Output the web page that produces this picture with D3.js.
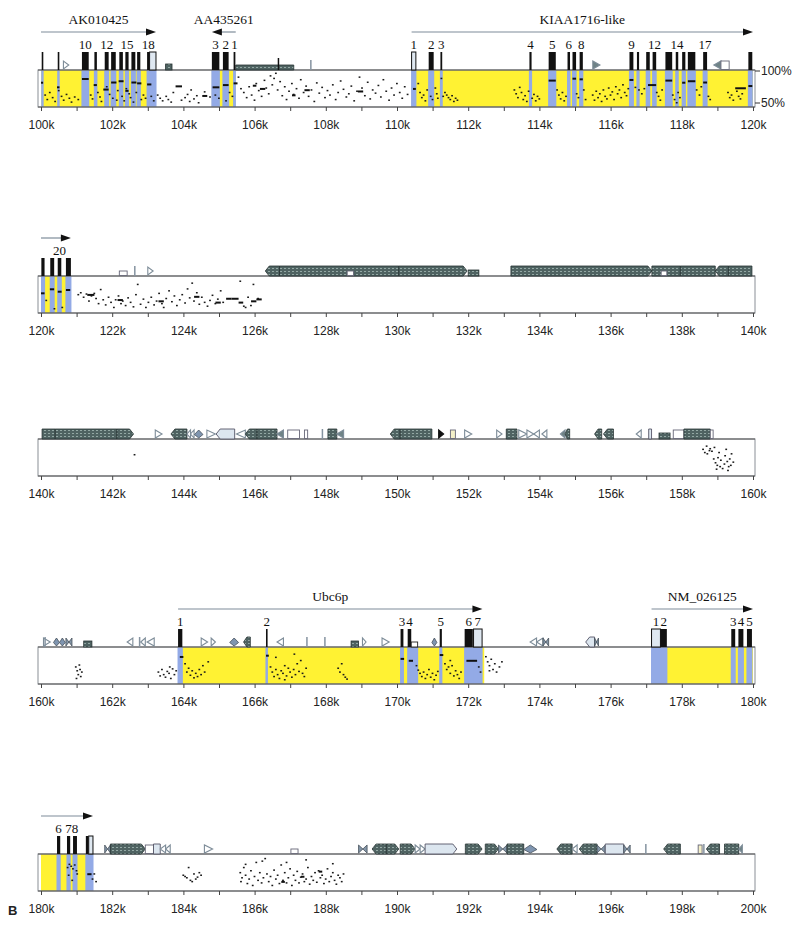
<!DOCTYPE html>
<html>
<head>
<meta charset="utf-8">
<script src="https://cdn.jsdelivr.net/npm/d3@7"></script>
<style>
  body { margin: 0; background: #fff; }
  .tick-label { font-family: "Liberation Sans", Arial, sans-serif; font-size: 12px; fill: #222; }
  .serif { font-family: "Liberation Serif", "Times New Roman", serif; fill: #111; }
</style>
</head>
<body>
<div id="pip"></div>
<script>
// ---- data (kb positions, percent identity) ----
var panelRanges = [[100, 120], [120, 140], [140, 160], [160, 180], [180, 200]];

var genes = [
  { name: "AK010425", start: 100.0, end: 103.23, strand: 1 },
  { name: "AA435261", start: 104.8, end: 105.47, strand: -1 },
  { name: "KIAA1716-like", start: 110.41, end: 120.84, strand: 1 },
  { name: "Ubc6p", start: 163.85, end: 172.4, strand: 1 },
  { name: "NM_026125", start: 177.15, end: 181.46, strand: 1 }
];

// [start, end, label, kind]  kind: c = coding, u = UTR, s = small UTR
var exons = [
  [100.02, 100.06], [100.47, 100.51], [101.15, 101.34, "10"], [101.5, 101.57],
  [101.79, 101.9, "12"], [101.97, 102.1], [102.2, 102.3], [102.37, 102.46, "15"],
  [102.54, 102.65], [102.7, 102.79], [102.98, 103.05, "18"], [103.05, 103.23, null, "u"],
  [104.8, 105.01, "3"], [105.11, 105.27, "2"], [105.41, 105.46, "1"],
  [110.41, 110.53, "1", "u"], [110.89, 111.03, "2"], [111.22, 111.27, "3"],
  [113.72, 113.78, "4"], [114.26, 114.46, "5"], [114.79, 114.86, "6"], [114.93, 115.03],
  [115.13, 115.22, "8"], [116.53, 116.64, "9"], [116.74, 116.8], [117.0, 117.1],
  [117.18, 117.28, "12"], [117.54, 117.73], [117.83, 117.9, "14"], [118.01, 118.1],
  [118.17, 118.38], [118.6, 118.71, "17"], [119.87, 119.98],
  [120.01, 120.1], [120.26, 120.37], [120.47, 120.57, "20"], [120.7, 120.84],
  [163.85, 163.97, "1"], [166.32, 166.36, "2"], [170.1, 170.18, "3"], [170.3, 170.4, "4"],
  [170.4, 170.58, null, "s"], [171.2, 171.26, "5"], [171.9, 172.13, "6"], [172.15, 172.39, "7", "u"],
  [177.15, 177.4, "1", "u"], [177.4, 177.58, "2"], [179.39, 179.5, "3"], [179.59, 179.73, "4"],
  [179.83, 179.97, "5"],
  [180.45, 180.54, "6"], [180.73, 180.82, "7"], [180.9, 181.01, "8"], [181.26, 181.34],
  [181.34, 181.46, null, "u"]
];

// transcribed regions (yellow underlay)
var geneRegions = [[100.0, 103.23], [104.8, 105.47], [110.41, 120.84], [163.85, 172.45], [177.15, 181.46]];

// repeats: [start, end, kind]
var repeats = [
  [100.63, 100.78, "T>"], [103.5, 103.68, "S"], [105.47, 107.1, "Lh"], [106.65, 106.69, "K"],
  [107.56, 107.6, "I"], [115.5, 115.7, "G>"], [118.9, 119.1, "G<"], [119.1, 119.33, "W"],
  [122.2, 122.42, "Wl"], [122.6, 122.67, "I"], [123.0, 123.15, "T>"],
  [126.3, 126.7, "L<"], [126.7, 130.05, "L"], [130.05, 131.97, "L>"], [132.0, 132.3, "S"],
  [128.6, 128.78, "Wl"], [133.2, 137.16, "L>"], [137.16, 137.96, "L"], [137.42, 137.58, "Wl"],
  [137.96, 138.94, "L"], [138.94, 139.31, "L<"], [139.31, 139.97, "L"],
  [140.03, 140.4, "L"], [140.4, 142.13, "L"], [142.13, 142.6, "L>"], [143.21, 143.4, "T>"],
  [143.65, 144.1, "L<"], [144.1, 144.2, "T<"], [144.2, 144.3, "T<"], [144.31, 144.55, "D"],
  [144.66, 144.9, "T>"], [144.92, 145.44, "P<"], [145.49, 145.74, "T<"], [145.74, 146.07, "L<"],
  [146.07, 146.63, "L"], [146.63, 146.81, "G<"], [146.93, 147.26, "W"], [147.4, 147.49, "W"],
  [147.87, 147.94, "I"], [148.06, 148.31, "L"], [148.31, 148.5, "G<"], [149.81, 150.09, "L<"],
  [150.09, 150.98, "L"], [151.17, 151.31, "F>"], [151.5, 151.64, "Y"], [151.9, 152.1, "T>"],
  [152.8, 152.95, "T>"], [153.07, 153.37, "L"], [153.42, 153.65, "T>"], [153.65, 153.84, "T>"],
  [153.84, 154.0, "T<"], [154.07, 154.21, "T<"], [154.59, 154.72, "G<"], [154.72, 154.85, "L<"],
  [155.55, 155.75, "L<"], [155.8, 156.08, "L<"], [156.72, 156.86, "T<"], [157.07, 157.15, "P"],
  [157.36, 157.67, "S"], [157.76, 158.06, "W"], [158.06, 158.8, "L"], [158.8, 158.88, "W"],
  [160.07, 160.26, "T>"], [160.1, 160.13, "I"], [160.35, 160.52, "D"], [160.52, 160.68, "D"],
  [160.7, 160.87, "X"], [161.2, 161.43, "S"], [162.42, 162.58, "T<"], [162.74, 162.8, "I"],
  [162.8, 162.93, "T<"], [162.98, 163.18, "T<"], [164.5, 164.68, "T>"], [164.78, 164.9, "T>"],
  [165.3, 165.55, "D"], [165.69, 165.88, "L<"], [166.63, 166.81, "T<"], [167.44, 167.5, "I"],
  [167.96, 167.99, "I"], [168.71, 168.92, "S"], [169.03, 169.13, "T>"], [169.58, 169.78, "T>"],
  [170.98, 171.12, "D"], [173.74, 173.92, "T<"], [173.92, 174.1, "T<"], [174.1, 174.26, "X"],
  [175.3, 175.55, "P<"], [175.55, 175.66, "X"],
  [181.79, 181.95, "X"], [181.95, 182.93, "L>"], [182.93, 183.16, "W"], [183.16, 183.35, "P"],
  [183.35, 183.5, "T<"], [183.5, 183.63, "T<"], [184.59, 184.82, "T>"], [187.02, 187.22, "Wl"],
  [188.92, 189.16, "X"], [189.3, 189.7, "L<"], [189.7, 190.05, "L>"], [190.09, 190.51, "L>"],
  [190.51, 190.65, "T>"], [190.65, 190.79, "T>"], [190.79, 191.68, "P>"], [191.92, 192.39, "L>"],
  [192.48, 192.85, "L>"], [192.85, 193.09, "X"], [193.09, 193.56, "L"], [193.56, 193.93, "D"],
  [194.49, 194.92, "L<"], [194.92, 195.06, "T<"], [195.12, 195.62, "L<"], [195.62, 195.85, "X"],
  [195.85, 196.37, "P"], [196.37, 196.55, "X"], [196.96, 197.02, "I"], [197.49, 197.96, "L<"],
  [198.46, 198.57, "Y"], [198.6, 198.64, "I"], [198.69, 199.06, "L<"], [199.2, 199.6, "L"],
  [199.6, 199.7, "G<"]
];

// gap-free alignment segments: [start, end, percent]
var segments = [
  [100.0, 100.06, 81.7], [100.45, 100.52, 74.5], [101.15, 101.34, 87.5], [101.48, 101.57, 78],
  [101.75, 101.9, 71], [101.97, 102.12, 82], [102.18, 102.32, 84], [102.37, 102.46, 69],
  [102.54, 102.68, 82], [102.7, 102.82, 80.7], [102.98, 103.1, 79], [103.78, 103.96, 76],
  [104.53, 104.67, 61], [104.82, 105.01, 74.5], [105.11, 105.27, 78], [105.41, 105.52, 80.7],
  [105.95, 106.05, 77], [106.15, 106.3, 72], [107.05, 107.15, 62], [107.4, 107.55, 70],
  [108.9, 109.05, 68], [110.45, 110.53, 72], [114.26, 114.46, 85], [114.93, 115.03, 88],
  [115.13, 115.22, 87], [116.53, 116.64, 86], [117.05, 117.28, 78], [117.54, 117.73, 85],
  [118.01, 118.1, 81.7], [118.17, 118.38, 84], [118.6, 118.71, 82], [119.5, 119.8, 73],
  [119.87, 119.98, 76.5],
  [120.0, 120.1, 74.5], [120.25, 120.37, 80.8], [120.47, 120.58, 77], [120.7, 120.82, 79.7],
  [121.3, 121.5, 72], [122.15, 122.3, 64], [123.3, 123.45, 62], [124.3, 124.45, 69],
  [124.9, 125.05, 60], [125.2, 125.35, 66], [125.35, 125.55, 66], [125.55, 125.68, 60],
  [125.9, 126.05, 62], [126.05, 126.2, 65],
  [163.9, 164.0, 86], [166.32, 166.4, 88], [170.1, 170.2, 83], [170.33, 170.45, 80],
  [171.2, 171.3, 89], [171.95, 172.25, 80], [181.3, 181.42, 70], [186.75, 186.85, 58],
  [187.3, 187.4, 66], [187.8, 187.9, 74]
];

// single short matches: [position, percent]
var dots = [
  [100.12, 62], [100.18, 55], [100.25, 66], [100.33, 58], [100.4, 52], [100.58, 60], [100.64, 54],
  [100.72, 63], [100.8, 57], [100.86, 51], [100.95, 59], [101.05, 55], [100.5, 69],
  [101.4, 62], [101.45, 56], [101.6, 66], [101.66, 59], [101.7, 52], [101.93, 63], [102.02, 57],
  [102.13, 54], [102.16, 69], [102.28, 60], [102.34, 53], [102.48, 64], [102.52, 58], [102.6, 51],
  [102.68, 66], [102.82, 55], [102.88, 62], [102.94, 57], [103.1, 60], [103.17, 53], [102.4, 72],
  [101.85, 75], [103.28, 62], [103.35, 57], [103.42, 53], [103.52, 60], [103.58, 55], [103.66, 51],
  [103.72, 66], [104.05, 58], [104.12, 63], [104.18, 52], [104.3, 56], [104.38, 61], [104.43, 50],
  [104.6, 67], [104.75, 59], [103.95, 54], [104.22, 70], [104.9, 62], [105.0, 57], [105.2, 53],
  [105.3, 66], [105.38, 60],
  [105.55, 90], [105.62, 72], [105.7, 66], [105.78, 58], [105.85, 75], [105.92, 62], [106.0, 54],
  [106.05, 80], [106.12, 69], [106.2, 60], [106.28, 85], [106.33, 73], [106.4, 64], [106.45, 92],
  [106.5, 78], [106.55, 88], [106.6, 96], [106.65, 70], [106.72, 83], [106.78, 61], [106.85, 75],
  [106.9, 55], [106.97, 68], [107.05, 80], [107.1, 63], [107.18, 72], [107.25, 57], [107.3, 86],
  [107.38, 66], [107.45, 76], [107.52, 60], [107.6, 70], [107.68, 52], [107.75, 81], [107.82, 65],
  [107.9, 74], [107.98, 58], [108.05, 69], [108.12, 62], [108.2, 78], [108.28, 55], [108.35, 66],
  [108.42, 84], [108.5, 71], [108.58, 59], [108.65, 64], [108.72, 76], [108.8, 53], [108.88, 68],
  [108.95, 90], [109.02, 73], [109.1, 61], [109.18, 82], [109.25, 56], [109.32, 70], [109.4, 65],
  [109.48, 77], [109.55, 59], [109.62, 86], [109.7, 68], [109.78, 54], [109.85, 73], [109.92, 62],
  [110.0, 80], [110.08, 66], [110.15, 57], [110.22, 75], [110.3, 63],
  [110.6, 80], [110.65, 66], [110.7, 58], [110.75, 62], [110.8, 53], [110.85, 70], [110.95, 60],
  [111.0, 55], [111.08, 73], [111.12, 64], [111.15, 57], [111.25, 88], [111.3, 60], [111.35, 66],
  [111.4, 62], [111.45, 58], [111.5, 55], [111.55, 61], [111.6, 52], [111.65, 57], [111.7, 54],
  [113.3, 70], [113.35, 64], [113.4, 58], [113.45, 74], [113.5, 66], [113.55, 55], [113.6, 61],
  [113.65, 52], [113.7, 68], [113.8, 57], [113.85, 63], [113.9, 53], [113.95, 60], [114.0, 56],
  [114.5, 70], [114.55, 62], [114.6, 56], [114.65, 66], [114.7, 53], [114.75, 60],
  [115.05, 64], [115.1, 58], [115.25, 70], [115.3, 55],
  [115.5, 62], [115.55, 54], [115.6, 68], [115.65, 58], [115.7, 64], [115.75, 52], [115.8, 70],
  [115.85, 60], [115.9, 56], [115.95, 73], [116.0, 62], [116.05, 67], [116.1, 55], [116.15, 75],
  [116.2, 64], [116.25, 70], [116.3, 58], [116.35, 78], [116.4, 66], [116.45, 61], [116.5, 72],
  [116.7, 74], [116.8, 70], [116.88, 64], [116.95, 72], [117.3, 66], [117.35, 60], [117.4, 54],
  [117.45, 70], [117.75, 62], [117.8, 55], [117.86, 50], [117.9, 66], [117.95, 58],
  [118.42, 70], [118.5, 62], [118.55, 75], [118.75, 60], [118.8, 55],
  [119.3, 66], [119.35, 58], [119.4, 62], [119.45, 54], [119.55, 68], [119.6, 60], [119.65, 56],
  [119.7, 64],
  [120.15, 63], [120.38, 50], [120.6, 52],
  [121.05, 72], [121.12, 75], [121.2, 68], [121.28, 73], [121.35, 62], [121.42, 70], [121.5, 74],
  [121.55, 66], [121.62, 58], [121.68, 80], [121.75, 64], [121.82, 56], [121.9, 68], [121.97, 60],
  [122.05, 52], [122.1, 64], [122.18, 70], [122.25, 58], [122.3, 62], [122.38, 55], [122.45, 67],
  [122.52, 60], [122.6, 53], [122.67, 72], [122.72, 88], [122.8, 57], [122.88, 65], [122.95, 52],
  [123.02, 60], [123.1, 68], [123.18, 56], [123.25, 62], [123.32, 74], [123.4, 58], [123.45, 52],
  [123.52, 66], [123.6, 78], [123.68, 61], [123.75, 70], [123.82, 55], [123.9, 64], [123.97, 72],
  [124.05, 59], [124.12, 81], [124.18, 67], [124.25, 90], [124.3, 62], [124.38, 75], [124.45, 57],
  [124.52, 68], [124.6, 60], [124.68, 54], [124.75, 63], [124.82, 71], [124.9, 58], [124.97, 65],
  [125.05, 78], [125.12, 60], [125.6, 93], [125.7, 54], [125.75, 52], [125.82, 68], [125.9, 55],
  [125.97, 88], [126.1, 66],
  [142.63, 76.6],
  [158.6, 85], [158.65, 80], [158.7, 90], [158.72, 78], [158.78, 83], [158.85, 82], [158.9, 70],
  [158.95, 64], [159.0, 60], [159.02, 72], [159.08, 58], [159.1, 68], [159.15, 55], [159.2, 62],
  [159.22, 75], [159.28, 66], [159.3, 52], [159.35, 70], [159.38, 60], [159.4, 78], [159.45, 65],
  [158.92, 88], [159.25, 85], [159.05, 80], [158.8, 86], [158.98, 54], [159.32, 58],
  [160.98, 70], [161.02, 64], [161.05, 58], [161.1, 66], [161.12, 55], [161.15, 62], [161.0, 52],
  [161.08, 73],
  [163.3, 62], [163.35, 56], [163.4, 66], [163.45, 58], [163.5, 54], [163.55, 63], [163.6, 60],
  [163.65, 52], [163.7, 67], [163.75, 58], [163.8, 64], [163.62, 70],
  [164.05, 75], [164.1, 62], [164.15, 68], [164.2, 57], [164.25, 64], [164.3, 53], [164.35, 60],
  [164.4, 55], [164.45, 66], [164.5, 58], [164.55, 72], [164.6, 62], [164.7, 78],
  [166.45, 70], [166.5, 62], [166.55, 55], [166.6, 66], [166.65, 58], [166.7, 52], [166.75, 64],
  [166.8, 60], [166.85, 72], [166.9, 56], [166.95, 68], [167.0, 62], [167.05, 54], [167.1, 66],
  [167.15, 58], [167.2, 75], [167.25, 63], [167.3, 80], [167.35, 60], [167.4, 55], [167.45, 68],
  [166.85, 50], [167.12, 90], [166.6, 85],
  [168.35, 68], [168.4, 62], [168.45, 75], [168.5, 58], [168.55, 54], [168.6, 51],
  [170.55, 72], [170.6, 65], [170.65, 60], [170.7, 55], [170.75, 62], [170.8, 52], [170.85, 58],
  [170.9, 66], [170.95, 54], [171.0, 60], [171.05, 50], [171.1, 57], [171.15, 63],
  [171.35, 75], [171.4, 66], [171.45, 70], [171.5, 60], [171.55, 72], [171.6, 56], [171.65, 64],
  [171.7, 58], [171.75, 52], [171.8, 62], [171.5, 80], [172.3, 70], [172.35, 62],
  [172.5, 86], [172.55, 78], [172.6, 72], [172.65, 82], [172.7, 66], [172.75, 75], [172.8, 62],
  [172.88, 70], [172.95, 78], [172.6, 64],
  [180.75, 80], [180.8, 85], [180.85, 82], [180.9, 78], [180.95, 84], [181.0, 75], [180.78, 68],
  [181.02, 70], [180.88, 60], [181.45, 62], [181.5, 70], [181.55, 58],
  [184.0, 68], [184.05, 66], [184.1, 64], [184.2, 60], [184.25, 58], [184.3, 70], [184.35, 62],
  [184.4, 65], [184.45, 72], [184.5, 68], [184.15, 80],
  [185.6, 72], [185.62, 58], [185.65, 64], [185.7, 80], [185.75, 68], [185.8, 55], [185.85, 62],
  [185.9, 75], [185.95, 52], [186.0, 66], [186.05, 88], [186.1, 60], [186.15, 72], [186.2, 56],
  [186.25, 64], [186.3, 94], [186.35, 70], [186.4, 58], [186.45, 66], [186.5, 52], [186.55, 76],
  [186.6, 62], [186.65, 68], [186.7, 55], [186.75, 84], [186.8, 60], [186.85, 72], [186.9, 56],
  [186.95, 64], [187.0, 78], [187.05, 52], [187.1, 68], [187.15, 60], [187.2, 74], [187.25, 56],
  [187.3, 65], [187.35, 70], [187.4, 58], [187.45, 62], [187.5, 80], [187.55, 54], [187.6, 66],
  [187.65, 60], [187.7, 72], [187.75, 57], [187.8, 75], [187.85, 64], [187.9, 68], [187.95, 55],
  [188.0, 62], [188.05, 78], [188.1, 58], [188.15, 66], [188.2, 72], [188.25, 60], [188.3, 54],
  [188.35, 68], [188.4, 64], [188.45, 58], [188.5, 70], [186.22, 90], [187.45, 92], [185.75, 85],
  [186.9, 88], [188.2, 86]
];

var pctTicks = [100, 50];

// ---- layout ----
var width = 800, height = 927;
var panelTops = [70, 276, 439, 647, 854];
var boxH = 37, boxLeft = 38, boxRight = 755;
var yellow = "#fff233", blue = "#93aae6";

var svg = d3.select("#pip").append("svg")
  .attr("width", width).attr("height", height);
svg.append("rect").attr("width", width).attr("height", height).attr("fill", "#fff");

// hatched texture for the dark repeat glyphs
var defs = svg.append("defs");
var pat = defs.append("pattern").attr("id", "hatch")
  .attr("width", 4).attr("height", 3).attr("patternUnits", "userSpaceOnUse");
pat.append("rect").attr("width", 4).attr("height", 3).attr("fill", "#4f6362");
pat.append("rect").attr("x", 0).attr("y", 1).attr("width", 2).attr("height", 1).attr("fill", "#93a8a4");

function overlaps(s, e, r) { return e > r[0] && s < r[1]; }

panelRanges.forEach(function (range, i) {
  var top = panelTops[i];
  var base = top;              // feature baseline sits on the box top
  var bottom = top + boxH;
  var x = d3.scaleLinear().domain(range).range([41, 753]);
  var y = d3.scaleLinear().domain([50, 100]).range([top + 33, top + 1]);
  var clip = function (v) { return Math.max(range[0], Math.min(range[1], v)); };
  var g = svg.append("g");

  // underlay: gene regions in yellow, exons in blue
  g.selectAll("rect.gene").data(geneRegions.filter(function (d) { return overlaps(d[0], d[1], range); }))
    .enter().append("rect")
    .attr("x", function (d) { return x(clip(d[0])); })
    .attr("width", function (d) { return x(clip(d[1])) - x(clip(d[0])); })
    .attr("y", top).attr("height", boxH).attr("fill", yellow);

  g.selectAll("rect.ex").data(exons.filter(function (d) { return overlaps(d[0], d[1], range); }))
    .enter().append("rect")
    .attr("x", function (d) { return x(clip(d[0] - 0.015)); })
    .attr("width", function (d) { return Math.max(1.5, x(clip(d[1] + 0.015)) - x(clip(d[0] - 0.015))); })
    .attr("y", top).attr("height", boxH).attr("fill", blue);

  // percent identity marks
  g.selectAll("rect.dot").data(dots.filter(function (d) { return d[0] >= range[0] && d[0] <= range[1]; }))
    .enter().append("rect")
    .attr("x", function (d) { return x(d[0]) - 1; })
    .attr("y", function (d) { return y(d[1]) - 1; })
    .attr("width", 1.8).attr("height", 1.5).attr("fill", "#1a1a1a");

  g.selectAll("line.seg").data(segments.filter(function (d) { return overlaps(d[0], d[1], range); }))
    .enter().append("line")
    .attr("x1", function (d) { return x(clip(d[0])); })
    .attr("x2", function (d) { return x(clip(d[1])); })
    .attr("y1", function (d) { return y(d[2]); })
    .attr("y2", function (d) { return y(d[2]); })
    .attr("stroke", "#111").attr("stroke-width", 2);

  // box frame
  g.append("rect").attr("x", boxLeft).attr("y", top).attr("width", boxRight - boxLeft).attr("height", boxH)
    .attr("fill", "none").attr("stroke", "#8a8f96").attr("stroke-width", 1);
  g.append("line").attr("x1", boxLeft).attr("x2", boxRight).attr("y1", bottom).attr("y2", bottom)
    .attr("stroke", "#555").attr("stroke-width", 1.2);
  g.append("line").attr("x1", boxLeft).attr("x2", boxRight).attr("y1", base).attr("y2", base)
    .attr("stroke", "#555").attr("stroke-width", 1.2);

  // axis
  var axis = d3.axisBottom(x).tickValues(d3.range(range[0], range[1] + 1, 1))
    .tickSize(4).tickFormat(function (d) { return (d - range[0]) % 2 === 0 ? d + "k" : ""; });
  var ax = g.append("g").attr("transform", "translate(0," + bottom + ")").call(axis);
  ax.select(".domain").remove();
  ax.selectAll("line").attr("stroke", "#444");
  ax.selectAll("text").attr("class", "tick-label").attr("dy", "1.05em").attr("y", 9);

  // percent labels on the first panel only
  if (i === 0) {
    pctTicks.forEach(function (p) {
      g.append("line").attr("x1", boxRight).attr("x2", boxRight + 5)
        .attr("y1", y(p)).attr("y2", y(p)).attr("stroke", "#333");
      g.append("text").attr("class", "tick-label").attr("x", boxRight + 6).attr("y", y(p) + 4)
        .text(p + "%");
    });
  }

  // repeats
  repeats.filter(function (d) { return overlaps(d[0], d[1], range); }).forEach(function (d) {
    var x1 = x(clip(d[0])), x2 = x(clip(d[1])), k = d[2];
    var w = Math.max(1, x2 - x1), t = Math.min(4, w / 2);
    var h, pts;
    if (k[0] === "L") {
      h = k === "Lh" ? 5 : 10;
      if (k === "L>") pts = [[x1, base], [x1, base - h], [x2 - t, base - h], [x2, base - h / 2], [x2 - t, base]];
      else if (k === "L<") pts = [[x1 + t, base], [x1, base - h / 2], [x1 + t, base - h], [x2, base - h], [x2, base]];
      else pts = [[x1, base], [x1, base - h], [x2, base - h], [x2, base]];
      g.append("polygon").attr("points", pts.join(" ")).attr("fill", "url(#hatch)")
        .attr("stroke", "#263232").attr("stroke-width", 0.8);
    } else if (k === "T>" || k === "T<" || k === "G>" || k === "G<" || k === "F>") {
      h = 9;
      pts = k[1] === ">" ? [[x1, base - 1], [x1, base - h], [x2, base - h / 2 - 0.5]]
        : [[x2, base - 1], [x2, base - h], [x1, base - h / 2 - 0.5]];
      var fill = k[0] === "T" ? "#fff" : (k[0] === "G" ? "#6f8386" : "#111");
      g.append("polygon").attr("points", pts.join(" ")).attr("fill", fill)
        .attr("stroke", k[0] === "F" ? "#111" : "#7d8c98").attr("stroke-width", 1.1);
    } else if (k === "D") {
      h = 9;
      pts = [[x1, base - h / 2], [(x1 + x2) / 2, base - h], [x2, base - h / 2], [(x1 + x2) / 2, base - 1]];
      g.append("polygon").attr("points", pts.join(" ")).attr("fill", "#7f95b0")
        .attr("stroke", "#46505a").attr("stroke-width", 0.8);
    } else if (k === "X") {
      h = 9;
      pts = [[x1, base - 1], [x1, base - h], [x2, base - 1], [x2, base - h]];
      g.append("polygon").attr("points", pts.join(" ")).attr("fill", "#8496a8")
        .attr("stroke", "#46505a").attr("stroke-width", 0.8);
    } else if (k === "W" || k === "Wl" || k === "Y") {
      h = k === "Wl" ? 5 : 9;
      g.append("rect").attr("x", x1).attr("y", base - h).attr("width", w).attr("height", h - 0.5)
        .attr("fill", k === "Y" ? "#f4f0c8" : "#fff").attr("stroke", "#667").attr("stroke-width", 0.9);
    } else if (k === "P" || k === "P<" || k === "P>") {
      h = 10;
      if (k === "P<") pts = [[x1 + t, base], [x1, base - h / 2], [x1 + t, base - h], [x2, base - h], [x2, base]];
      else if (k === "P>") pts = [[x1, base], [x1, base - h], [x2 - t, base - h], [x2, base - h / 2], [x2 - t, base]];
      else pts = [[x1, base], [x1, base - h], [x2, base - h], [x2, base]];
      g.append("polygon").attr("points", pts.join(" ")).attr("fill", "#dce6ef")
        .attr("stroke", "#556").attr("stroke-width", 0.9);
    } else if (k === "S") {
      h = 6;
      g.append("rect").attr("x", x1).attr("y", base - h).attr("width", w).attr("height", h)
        .attr("fill", "url(#hatch)").attr("stroke", "#263232").attr("stroke-width", 0.8);
    } else if (k === "I" || k === "K") {
      h = k === "K" ? 12 : 10;
      g.append("line").attr("x1", (x1 + x2) / 2).attr("x2", (x1 + x2) / 2)
        .attr("y1", base).attr("y2", base - h)
        .attr("stroke", k === "K" ? "#111" : "#8593a0").attr("stroke-width", 1.5);
    }
  });

  // exons
  exons.filter(function (d) { return overlaps(d[0], d[1], range); }).forEach(function (d) {
    var x1 = x(clip(d[0])), x2 = x(clip(d[1]));
    var w = Math.max(1.6, x2 - x1), kind = d[3] || "c";
    if (kind === "s") {
      g.append("rect").attr("x", x1).attr("y", base - 5).attr("width", w).attr("height", 5)
        .attr("fill", "#fff").attr("stroke", "#222").attr("stroke-width", 0.9);
    } else {
      g.append("rect").attr("x", x1).attr("y", base - 18).attr("width", w).attr("height", 18)
        .attr("fill", kind === "u" ? "#dfe8f1" : "#111")
        .attr("stroke", "#111").attr("stroke-width", kind === "u" ? 1 : 0);
    }
    if (d[2]) {
      g.append("text").attr("class", "serif").attr("font-size", 13)
        .attr("x", (x1 + x2) / 2).attr("y", base - 21).attr("text-anchor", "middle").text(d[2]);
    }
  });

  // gene arrows and names
  genes.filter(function (d) { return overlaps(Math.min(d.start, d.end), Math.max(d.start, d.end), range); })
    .forEach(function (d) {
      var ay = top - 38;
      var xs = x(clip(d.start)), xe = x(clip(d.end));
      var from = d.strand > 0 ? xs : xe, to = d.strand > 0 ? xe : xs;
      var dir = d.strand > 0 ? 1 : -1;
      g.append("line").attr("x1", from).attr("x2", to - dir * 6).attr("y1", ay).attr("y2", ay)
        .attr("stroke", "#7e8c99").attr("stroke-width", 1.2);
      g.append("polygon")
        .attr("points", [[to, ay], [to - dir * 10, ay - 3.5], [to - dir * 10, ay + 3.5]].join(" "))
        .attr("fill", "#111");
      if (d.start >= range[0]) {
        g.append("text").attr("class", "serif").attr("font-size", 13.5)
          .attr("x", (xs + xe) / 2).attr("y", top - 46).attr("text-anchor", "middle").text(d.name);
      }
    });
});

svg.append("text").attr("x", 8).attr("y", 915)
  .attr("font-family", "Liberation Sans, Arial, sans-serif").attr("font-size", 13)
  .attr("font-weight", "bold").attr("fill", "#222").text("B");
</script>
</body>
</html>
